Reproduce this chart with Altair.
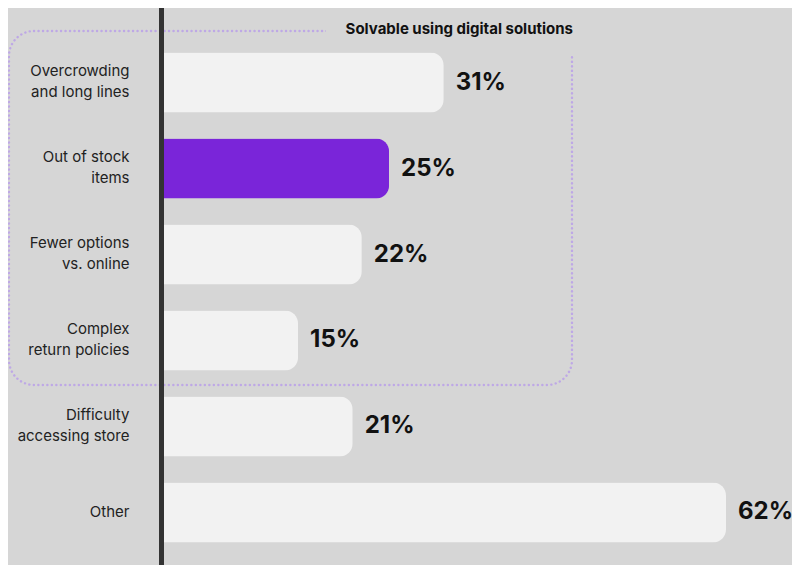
import altair as alt
import pandas as pd

categories = [
    "Overcrowding\nand long lines",
    "Out of stock\nitems",
    "Fewer options\nvs. online",
    "Complex\nreturn policies",
    "Difficulty\naccessing store",
    "Other",
]
values = [31, 25, 22, 15, 21, 62]
highlight = [False, True, False, False, False, False]
labels = [f"{v}%" for v in values]
box_title = ["Solvable using digital solutions"]

df = pd.DataFrame({"cat": categories, "val": values, "hl": highlight, "lab": labels})

BG = "#d6d6d6"
FONT = "Inter"

y_enc = alt.Y(
    "cat:N",
    sort=categories,
    scale=alt.Scale(range=[31.5, 547.5], paddingInner=0.3023, paddingOuter=0.1512),
    axis=alt.Axis(
        title=None, orient="left", offset=-121, domain=False, ticks=False, tickSize=0,
        labelPadding=0, labelExpr="split(datum.label, '\\n')", labelFont=FONT,
        labelFontSize=15, labelColor="#222222", labelLineHeight=21, labelAlign="right",
        labelBaseline="middle", grid=False,
        labelOffset={"condition": {"test": "indexof(datum.label, '\\n') >= 0", "value": -11.5}, "value": 0},
    ),
)
x_scale = alt.Scale(domain=[0, 62], range=[153.5, 718], zero=True, nice=False)

base = alt.Chart(df)

# dotted group outline
box = alt.Chart(pd.DataFrame({"t": box_title})).mark_rect(
    fill=None, stroke="#bea8e6", strokeWidth=2.4, strokeDash=[0.1, 4.4], cornerRadius=25,
    strokeCap="round",
).encode(x=alt.value(1), x2=alt.value(564), y=alt.value(23), y2=alt.value(377))

cover = alt.Chart(pd.DataFrame({"t": box_title})).mark_rect(fill=BG).encode(
    x=alt.value(318), x2=alt.value(584), y=alt.value(5), y2=alt.value(48)
)

title = alt.Chart(pd.DataFrame({"t": box_title})).mark_text(
    align="right", baseline="middle", font=FONT, fontSize=15, fontWeight="bold", color="#111111"
).encode(x=alt.value(565), y=alt.value(21), text="t:N")

bars = base.mark_bar(cornerRadiusEnd=13).encode(
    y=y_enc,
    x=alt.X("val:Q", scale=x_scale, axis=None),
    color=alt.Color("hl:N", scale=alt.Scale(domain=[False, True], range=["#f2f2f2", "#7a25d9"]), legend=None),
)

vals = base.mark_text(
    align="left", baseline="middle", dx=12, font=FONT, fontSize=24, fontWeight="bold", color="#111111"
).encode(y=alt.Y("cat:N", sort=categories), x=alt.X("val:Q", scale=x_scale), text="lab:N")

line = alt.Chart(pd.DataFrame({"z": [0]})).mark_rule(color="#333333", strokeWidth=5).encode(
    x=alt.X("z:Q", scale=x_scale), y=alt.value(-1), y2=alt.value(558)
)

chart = alt.layer(box, cover, title, bars, vals, line).properties(
    width=784, height=557, background=BG, padding=0,
    autosize=alt.AutoSizeParams(type="none"),
).configure_view(stroke=None)

chart.save("out.html", embed_options={"renderer": "svg", "actions": False})
